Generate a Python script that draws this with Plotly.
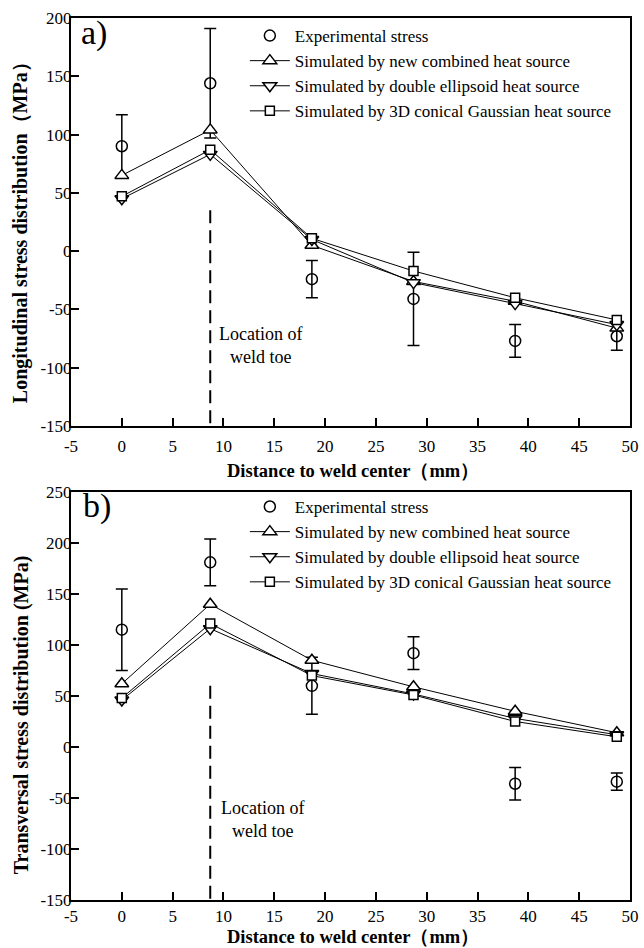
import plotly.graph_objects as go

# ---------------- data ----------------
dist = [0, 8.7, 18.7, 28.7, 38.7, 48.7]

# panel a) longitudinal stress (MPa)
exp_a = [90, 144, -24, -41, -77, -73]
exp_a_err = [27, 47, 16, 40, 14, 12]
new_a = [65, 104, 5, -26, -43, -66]
dbl_a = [45, 83, 10, -27, -45, -63]
con_a = [47, 87, 11, -17, -40, -59]

# panel b) transversal stress (MPa)
exp_b = [115, 181, 60, 92, -36, -34]
exp_b_err = [40, 23, 28, 16, 16, 8.5]
new_b = [62, 140, 85, 59, 35, 14]
dbl_b = [46, 116, 72, 52, 28, 12]
con_b = [48, 121, 70, 51, 25, 10]

names = ["Experimental stress",
         "Simulated by new combined heat source",
         "Simulated by double ellipsoid heat source",
         "Simulated by 3D conical Gaussian heat source"]

toe_x = 8.7
toe_top_a = 35
toe_top_b = 60
y_bottom = -150

x_ticks = list(range(-5, 51, 5))
ya_ticks = list(range(-150, 201, 50))
yb_ticks = list(range(-150, 251, 50))

SERIF = "Liberation Serif, Times New Roman, serif"

fig = go.Figure()

def add_panel(xa, ya, legend, exp, err, sims, toe_top):
    fig.add_trace(go.Scatter(x=[toe_x, toe_x], y=[toe_top, y_bottom], mode="lines",
                             line=dict(color="black", width=2, dash="13px,7px"),
                             showlegend=False, xaxis=xa, yaxis=ya, hoverinfo="skip"))
    fig.add_trace(go.Scatter(x=dist, y=exp, mode="markers", name=names[0],
                             marker=dict(symbol="circle-open", size=11, color="black",
                                         line=dict(width=1.5, color="black")),
                             error_y=dict(type="data", array=err, color="black",
                                          thickness=1.5, width=6),
                             legend=legend, xaxis=xa, yaxis=ya))
    symbols = ["triangle-up", "triangle-down", "square"]
    for nm, vals, sym in zip(names[1:], sims, symbols):
        fig.add_trace(go.Scatter(x=dist, y=vals, mode="lines+markers", name=nm,
                                 line=dict(color="black", width=1),
                                 marker=dict(symbol=sym, size=12 if sym != "square" else 9,
                                             color="white",
                                             line=dict(width=1.5, color="black")),
                                 legend=legend, xaxis=xa, yaxis=ya))

add_panel("x", "y", "legend", exp_a, exp_a_err, [new_a, dbl_a, con_a], toe_top_a)
add_panel("x2", "y2", "legend2", exp_b, exp_b_err, [new_b, dbl_b, con_b], toe_top_b)

def fmt(v):
    return str(v).replace("\u2212", "-")

axis_common = dict(showline=True, linecolor="black", linewidth=2, mirror=True,
                   ticks="inside", ticklen=8, tickwidth=2, tickcolor="black",
                   showgrid=False, zeroline=False, automargin=False,
                   tickfont=dict(family=SERIF, size=17, color="black"))

title_font = dict(family=SERIF, size=18.5, color="black")
xtitle_text = "<b>Distance to weld center（mm）</b>"

fig.update_layout(
    width=644, height=948,
    margin=dict(l=71, r=14, t=18, b=48),
    paper_bgcolor="white", plot_bgcolor="white",
    font=dict(family=SERIF, size=17, color="black"),
    xaxis=dict(axis_common, range=[-5, 50], tickvals=x_ticks,
               ticktext=[fmt(v) for v in x_ticks], anchor="y", ticklabelstandoff=4),
    yaxis=dict(axis_common, range=[-150, 200], tickvals=ya_ticks,
               ticktext=[fmt(v) for v in ya_ticks], domain=[0.5374, 1], anchor="x",
               ticklabelstandoff=-6),
    xaxis2=dict(axis_common, range=[-5, 50], tickvals=x_ticks,
                ticktext=[fmt(v) for v in x_ticks], anchor="y2", ticklabelstandoff=0),
    yaxis2=dict(axis_common, range=[-150, 250], tickvals=yb_ticks,
                ticktext=[fmt(v) for v in yb_ticks], domain=[0, 0.4626], anchor="x2",
                ticklabelstandoff=-6),
    legend=dict(x=0.311, y=1.0, xanchor="left", yanchor="top", bgcolor="rgba(0,0,0,0)",
                font=dict(family=SERIF, size=17), tracegroupgap=0, itemwidth=40),
    legend2=dict(x=0.311, y=0.466, xanchor="left", yanchor="top", bgcolor="rgba(0,0,0,0)",
                 font=dict(family=SERIF, size=17), tracegroupgap=0, itemwidth=40),
    annotations=[
        dict(text="<b>Longitudinal stress distribution（MPa）</b>", textangle=-90,
             x=-0.089, y=0.762, xref="paper", yref="paper", showarrow=False,
             xanchor="center", yanchor="middle", font=dict(title_font, size=20)),
        dict(text="<b>Transversal stress distribution (MPa)</b>", textangle=-90,
             x=-0.087, y=0.2098, xref="paper", yref="paper", showarrow=False,
             xanchor="center", yanchor="middle", font=dict(title_font, size=20)),
        dict(text=xtitle_text, x=0.505, y=0.4865, xref="paper", yref="paper",
             showarrow=False, xanchor="center", yanchor="middle", font=title_font),
        dict(text=xtitle_text, x=0.505, y=-0.042, xref="paper", yref="paper",
             showarrow=False, xanchor="center", yanchor="middle", font=title_font),
        dict(text="a)", x=-2.75, y=187, xref="x", yref="y", showarrow=False,
             font=dict(family=SERIF, size=34)),
        dict(text="b)", x=-2.4, y=236, xref="x2", yref="y2", showarrow=False,
             font=dict(family=SERIF, size=34)),
        dict(text="Location of<br>weld toe", x=13.6, y=-81, xref="x", yref="y",
             showarrow=False, font=dict(family=SERIF, size=18)),
        dict(text="Location of<br>weld toe", x=13.8, y=-71, xref="x2", yref="y2",
             showarrow=False, font=dict(family=SERIF, size=18)),
    ],
)

fig.write_html("out.html")
